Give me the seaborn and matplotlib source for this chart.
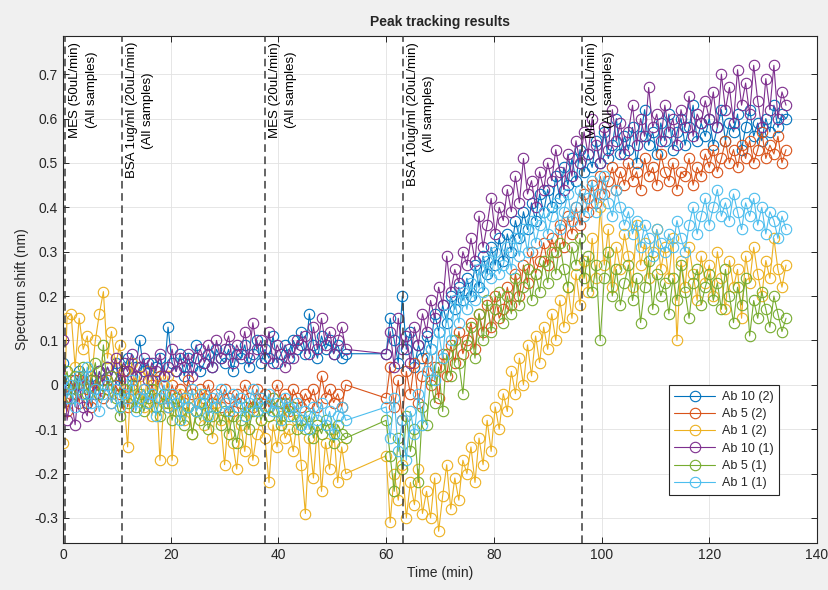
import numpy as np
import pandas as pd
import seaborn as sns
import matplotlib
matplotlib.use("Agg")
import matplotlib.pyplot as plt
import matplotlib.transforms as mtransforms

# Sampling times (min): first run, then the second run after the pause
time_run1 = np.arange(0, 52.6, 0.75)
time_run2 = np.arange(60, 134.3, 0.75)

# Spectrum shift (nm), first run
ab10_2_run1 = [0.05, -0.03, 0.01, -0.02, 0.03, 0.00, -0.04, 0.02, -0.01, 0.03,
               0.01, 0.04, 0.02, 0.05, 0.00, 0.03, 0.06, 0.02, 0.04, 0.10,
               0.03, 0.05, 0.01, 0.04, 0.06, 0.02, 0.13, 0.05, 0.03, 0.07,
               0.02, 0.06, 0.04, 0.09, 0.03, 0.05, 0.07, 0.04, 0.08, 0.06,
               0.05, 0.08, 0.03, 0.07, 0.06, 0.09, 0.04, 0.07, 0.10, 0.05,
               0.08, 0.06, 0.11, 0.05, 0.07, 0.09, 0.06, 0.10, 0.08, 0.12,
               0.07, 0.16, 0.09, 0.06, 0.11, 0.08, 0.10, 0.07, 0.09, 0.06, 0.07]
ab5_2_run1 = [0.00, -0.06, -0.02, 0.01, -0.04, 0.02, -0.01, -0.05, 0.01, -0.02,
              -0.03, 0.01, -0.04, 0.00, -0.02, 0.03, -0.05, -0.01, 0.02, -0.03,
              -0.01, -0.04, 0.00, -0.03, 0.02, -0.02, -0.05, 0.00, -0.03, -0.01,
              -0.04, 0.01, -0.02, -0.06, -0.01, -0.03, 0.00, -0.04, -0.02, -0.05,
              -0.01, -0.03, -0.06, -0.02, -0.04, 0.00, -0.03, -0.05, -0.01, -0.04,
              -0.02, -0.05, -0.03, 0.00, -0.04, -0.02, -0.06, -0.01, -0.03, -0.05,
              -0.02, -0.04, -0.01, -0.05, 0.02, -0.03, -0.01, -0.04, -0.02, -0.05, 0.00]
ab1_2_run1 = [-0.13, 0.15, 0.16, 0.04, 0.15, 0.08, 0.11, 0.01, 0.10, 0.16,
              0.21, 0.06, 0.12, 0.04, 0.09, -0.02, -0.14, 0.05, -0.03, 0.02,
              -0.05, 0.03, -0.07, 0.01, -0.17, -0.04, 0.02, -0.17, -0.06, -0.02,
              -0.08, -0.03, -0.11, -0.06, -0.02, -0.09, -0.05, -0.12, -0.04, -0.08,
              -0.18, -0.07, -0.13, -0.19, -0.09, -0.15, -0.06, -0.17, -0.11, -0.08,
              -0.12, -0.22, -0.09, -0.14, -0.07, -0.12, -0.10, -0.15, -0.08, -0.18,
              -0.29, -0.12, -0.21, -0.09, -0.24, -0.13, -0.19, -0.10, -0.22, -0.14, -0.20]
ab10_1_run1 = [0.10, -0.08, -0.03, -0.09, 0.00, -0.05, -0.07, 0.01, -0.02, 0.03,
               0.00, 0.04, 0.02, 0.06, 0.01, 0.05, 0.03, 0.07, 0.02, 0.04,
               0.06, 0.01, 0.05, 0.03, 0.07, 0.02, 0.04, 0.08, 0.03, 0.06,
               0.04, 0.07, 0.02, 0.06, 0.08, 0.05, 0.09, 0.04, 0.10, 0.06,
               0.08, 0.11, 0.05, 0.09, 0.07, 0.12, 0.06, 0.14, 0.08, 0.10,
               0.06, 0.12, 0.05, 0.09, 0.07, 0.04, 0.08, 0.06, 0.10, 0.09,
               0.11, 0.07, 0.13, 0.08, 0.15, 0.09, 0.12, 0.07, 0.10, 0.13, 0.08]
ab5_1_run1 = [0.00, 0.03, -0.03, 0.02, -0.01, 0.04, -0.02, 0.01, 0.05, -0.02,
              0.09, -0.01, 0.02, -0.03, -0.07, -0.01, -0.04, 0.00, -0.05, -0.02,
              -0.06, -0.03, -0.01, -0.05, -0.07, -0.02, -0.04, -0.08, -0.03, -0.06,
              -0.09, -0.05, -0.11, -0.06, -0.08, -0.04, -0.10, -0.07, -0.05, -0.09,
              -0.06, -0.11, -0.07, -0.13, -0.08, -0.05, -0.10, -0.06, -0.04, -0.08,
              -0.05, -0.07, -0.03, -0.06, -0.09, -0.04, -0.07, -0.05, -0.10, -0.08,
              -0.10, -0.07, -0.12, -0.09, -0.11, -0.08, -0.10, -0.13, -0.09, -0.11, -0.12]
ab1_1_run1 = [0.01, -0.03, 0.00, -0.05, 0.02, -0.02, 0.04, -0.04, -0.01, -0.06,
              -0.02, 0.00, -0.04, -0.01, -0.05, -0.02, -0.03, 0.01, -0.06, -0.03,
              -0.01, -0.04, -0.02, -0.07, -0.03, 0.00, -0.05, -0.02, -0.04, -0.08,
              -0.03, -0.05, -0.01, -0.06, -0.04, -0.02, -0.07, -0.03, -0.05, -0.01,
              -0.04, -0.06, -0.02, -0.05, -0.03, -0.07, -0.04, -0.01, -0.06, -0.03,
              -0.05, -0.02, -0.06, -0.04, -0.08, -0.03, -0.05, -0.07, -0.04, -0.09,
              -0.06, -0.10, -0.05, -0.08, -0.04, -0.09, -0.06, -0.11, -0.07, -0.05, -0.08]

# Spectrum shift (nm), second run
ab10_2_run2 = [0.07, 0.15, 0.10, 0.05, 0.20, 0.08, 0.12, 0.04, 0.09, 0.06,
               0.11, 0.08, 0.16, 0.12, 0.18, 0.14, 0.20, 0.17, 0.22, 0.19,
               0.24, 0.20, 0.27, 0.22, 0.29, 0.25, 0.31, 0.27, 0.33, 0.28,
               0.34, 0.30, 0.37, 0.33, 0.39, 0.35, 0.41, 0.37, 0.43, 0.39,
               0.44, 0.40, 0.47, 0.42, 0.49, 0.45, 0.51, 0.46, 0.53, 0.48,
               0.52, 0.49, 0.55, 0.50, 0.57, 0.51, 0.54, 0.60, 0.52, 0.56,
               0.53, 0.58, 0.50, 0.56, 0.62, 0.54, 0.57, 0.52, 0.59, 0.55,
               0.61, 0.53, 0.57, 0.60, 0.54, 0.58, 0.63, 0.55, 0.59, 0.56,
               0.60, 0.54, 0.58, 0.62, 0.55, 0.59, 0.57, 0.61, 0.53, 0.58,
               0.62, 0.56, 0.59, 0.55, 0.60, 0.57, 0.63, 0.58, 0.61, 0.60]
ab5_2_run2 = [-0.03, 0.04, -0.05, 0.01, -0.08, 0.03, -0.02, 0.05, -0.04, 0.02,
              0.06, 0.00, 0.04, -0.03, 0.07, 0.02, 0.09, 0.05, 0.12, 0.07,
              0.10, 0.14, 0.08, 0.16, 0.12, 0.18, 0.13, 0.20, 0.15, 0.17,
              0.22, 0.18, 0.25, 0.20, 0.27, 0.23, 0.30, 0.25, 0.28, 0.32,
              0.27, 0.33, 0.30, 0.36, 0.31, 0.38, 0.34, 0.40, 0.36, 0.43,
              0.39, 0.45, 0.41, 0.47, 0.43, 0.46, 0.49, 0.44, 0.48, 0.45,
              0.50, 0.46, 0.48, 0.44, 0.51, 0.47, 0.49, 0.45, 0.52, 0.48,
              0.46, 0.50, 0.44, 0.48, 0.47, 0.51, 0.45, 0.49, 0.47, 0.52,
              0.49, 0.53, 0.48, 0.51, 0.55, 0.50, 0.53, 0.49, 0.54, 0.51,
              0.55, 0.50, 0.53, 0.57, 0.51, 0.54, 0.52, 0.56, 0.50, 0.53]
ab1_2_run2 = [-0.16, -0.31, -0.20, -0.26, -0.18, -0.30, -0.22, -0.27, -0.19, -0.29,
              -0.24, -0.30, -0.21, -0.33, -0.25, -0.18, -0.28, -0.21, -0.26, -0.17,
              -0.20, -0.14, -0.22, -0.12, -0.18, -0.08, -0.15, -0.05, -0.10, -0.02,
              -0.06, 0.03, -0.02, 0.06, 0.00, 0.09, 0.02, 0.11, 0.05, 0.13,
              0.08, 0.16, 0.10, 0.19, 0.13, 0.22, 0.15, 0.25, 0.18, 0.28,
              0.21, 0.33, 0.24, 0.40, 0.27, 0.35, 0.22, 0.31, 0.26, 0.34,
              0.29, 0.22, 0.36, 0.27, 0.32, 0.24, 0.30, 0.35, 0.26, 0.31,
              0.24, 0.33, 0.10, 0.28, 0.22, 0.31, 0.25, 0.19, 0.29, 0.23,
              0.27, 0.20, 0.30, 0.24, 0.17, 0.28, 0.22, 0.26, 0.15, 0.29,
              0.23, 0.31, 0.25, 0.20, 0.28, 0.24, 0.33, 0.26, 0.22, 0.27]
ab10_1_run2 = [0.07, 0.12, 0.04, 0.15, 0.08, 0.11, 0.05, 0.13, 0.09, 0.16,
               0.12, 0.19, 0.15, 0.22, 0.18, 0.29, 0.21, 0.26, 0.23, 0.30,
               0.27, 0.33, 0.28, 0.38, 0.31, 0.36, 0.42, 0.34, 0.40, 0.37,
               0.44, 0.39, 0.47, 0.41, 0.51, 0.43, 0.46, 0.40, 0.48, 0.44,
               0.50, 0.46, 0.53, 0.48, 0.44, 0.52, 0.47, 0.55, 0.50, 0.57,
               0.52, 0.60, 0.54, 0.50, 0.58, 0.53, 0.62, 0.55, 0.59, 0.52,
               0.57, 0.63, 0.54, 0.60, 0.56, 0.67, 0.58, 0.61, 0.55, 0.63,
               0.57, 0.60, 0.54, 0.62, 0.58, 0.65, 0.56, 0.61, 0.59, 0.64,
               0.60, 0.66, 0.58, 0.70, 0.62, 0.67, 0.59, 0.71, 0.63, 0.68,
               0.61, 0.72, 0.64, 0.58, 0.69, 0.62, 0.72, 0.60, 0.66, 0.63]
ab5_1_run2 = [-0.08, -0.16, -0.24, -0.12, -0.19, -0.07, -0.15, -0.10, -0.22, -0.05,
              -0.09, 0.01, -0.04, 0.04, -0.06, 0.07, 0.02, 0.10, 0.05, -0.02,
              0.09, 0.13, 0.06, 0.16, 0.10, 0.19, 0.12, 0.17, 0.21, 0.14,
              0.20, 0.16, 0.24, 0.18, 0.22, 0.26, 0.19, 0.25, 0.21, 0.28,
              0.23, 0.30, 0.25, 0.32, 0.26, 0.22, 0.31, 0.27, 0.33, 0.24,
              0.29, 0.21, 0.27, 0.10, 0.24, 0.30, 0.20, 0.26, 0.18, 0.23,
              0.27, 0.19, 0.24, 0.14, 0.22, 0.28, 0.17, 0.25, 0.20, 0.23,
              0.16, 0.24, 0.19, 0.27, 0.21, 0.15, 0.23, 0.26, 0.18, 0.22,
              0.25, 0.19, 0.23, 0.17, 0.26, 0.20, 0.14, 0.22, 0.18, 0.24,
              0.11, 0.19, 0.15, 0.21, 0.17, 0.13, 0.20, 0.16, 0.12, 0.15]
ab1_1_run2 = [-0.05, -0.12, -0.03, -0.15, -0.08, -0.17, -0.06, -0.11, -0.02, -0.09,
              0.03, 0.08, 0.01, 0.12, 0.06, 0.16, 0.10, 0.19, 0.14, 0.21,
              0.17, 0.23, 0.19, 0.26, 0.21, 0.28, 0.24, 0.30, 0.25, 0.27,
              0.31, 0.26, 0.33, 0.29, 0.35, 0.30, 0.37, 0.32, 0.36, 0.39,
              0.34, 0.38, 0.41, 0.35, 0.39, 0.43, 0.37, 0.40, 0.44, 0.38,
              0.42, 0.46, 0.39, 0.43, 0.47, 0.41, 0.38, 0.44, 0.40, 0.36,
              0.39, 0.34, 0.37, 0.31, 0.36, 0.33, 0.29, 0.35, 0.32, 0.30,
              0.34, 0.31, 0.37, 0.33, 0.30, 0.36, 0.40, 0.34, 0.38, 0.42,
              0.36, 0.40, 0.44, 0.38, 0.41, 0.37, 0.43, 0.39, 0.35, 0.41,
              0.38, 0.42, 0.36, 0.40, 0.34, 0.39, 0.37, 0.33, 0.38, 0.35]

series_names = ["Ab 10 (2)", "Ab 5 (2)", "Ab 1 (2)", "Ab 10 (1)", "Ab 5 (1)", "Ab 1 (1)"]
series_colors = ["#0072BD", "#D95319", "#EDB120", "#7E2F8E", "#77AC30", "#4DBEEE"]
runs1 = [ab10_2_run1, ab5_2_run1, ab1_2_run1, ab10_1_run1, ab5_1_run1, ab1_1_run1]
runs2 = [ab10_2_run2, ab5_2_run2, ab1_2_run2, ab10_1_run2, ab5_1_run2, ab1_1_run2]

# Injection events (min) and their labels
event_times = [0.4, 10.95, 37.5, 63.1, 96.4]
event_labels = ["MES (50uL/min)\n(All samples)",
                "BSA 1ug/ml (20uL/min)\n(All samples)",
                "MES (20uL/min)\n(All samples)",
                "BSA 10ug/ml (20uL/min)\n(All samples)",
                "MES (20uL/min)\n(All samples)"]

x_ticks = [0, 20, 40, 60, 80, 100, 120, 140]
y_ticks = [-0.3, -0.2, -0.1, 0, 0.1, 0.2, 0.3, 0.4, 0.5, 0.6, 0.7]
y_tick_labels = ["-0.3", "-0.2", "-0.1", "0", "0.1", "0.2", "0.3", "0.4", "0.5", "0.6", "0.7"]

sns.set_style("ticks")
plt.rcParams["font.family"] = ["Liberation Sans", "DejaVu Sans"]

frames = []
for name, r1, r2 in zip(series_names, runs1, runs2):
    frames.append(pd.DataFrame({
        "time": np.concatenate([time_run1, time_run2]),
        "shift": np.concatenate([r1, r2]),
        "sample": name,
    }))
data = pd.concat(frames, ignore_index=True)

fig = plt.figure(figsize=(8.29, 5.90), dpi=100, facecolor="#f0f0f0")
ax = fig.add_axes([0.076, 0.080, 0.9095, 0.859])
ax.set_facecolor("white")

for name, color in zip(series_names, series_colors):
    sub = data[data["sample"] == name]
    sns.lineplot(data=sub, x="time", y="shift", ax=ax, color=color,
                 estimator=None, sort=False, errorbar=None,
                 marker="o", ms=7.5, mfc="none", mec=color, mew=0.8,
                 lw=0.8, label=name)

ax.set_xlim(0, 140)
ax.set_ylim(-0.356, 0.786)
ax.set_xticks(x_ticks)
ax.set_yticks(y_ticks)
ax.set_yticklabels(y_tick_labels)
ax.grid(True, color="#e2e2e2", lw=0.6)
ax.set_axisbelow(True)
ax.tick_params(direction="in", top=True, right=True, length=4, width=0.7,
               labelsize=10, colors="#262626")
for s in ax.spines.values():
    s.set_color("#262626")
    s.set_linewidth(0.8)

trans = mtransforms.blended_transform_factory(ax.transData, ax.transAxes)
for t, lab in zip(event_times, event_labels):
    ax.axvline(t, color="#3a3a3a", lw=1.1, ls=(0, (5, 3)), zorder=5)
    ax.text(t + 0.8, 0.988, lab, transform=trans, rotation=90,
            ha="left", va="top", multialignment="center", linespacing=1.45,
            fontsize=9.5, color="black", zorder=6)

ax.set_title("Peak tracking results", fontsize=10, fontweight="bold", pad=7)
ax.set_xlabel("Time (min)", fontsize=10, color="#262626", labelpad=3)
ax.set_ylabel("Spectrum shift (nm)", fontsize=10, color="#262626", labelpad=4)

leg = ax.legend(loc="lower right", bbox_to_anchor=(0.9496, 0.0947),
                fontsize=9, handlelength=3.3, frameon=True, fancybox=False,
                edgecolor="#262626", framealpha=1, borderpad=0.45,
                labelspacing=0.42, handletextpad=0.5, borderaxespad=0)
leg.get_frame().set_linewidth(0.8)

fig.savefig("out.png", dpi=100, facecolor=fig.get_facecolor())
